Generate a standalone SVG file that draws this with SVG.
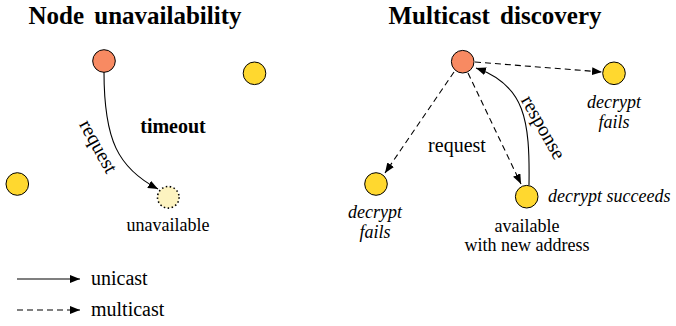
<svg xmlns="http://www.w3.org/2000/svg" width="676" height="326" viewBox="0 0 676 326">
<defs>
<marker id="ah" viewBox="0 0 10 8" refX="10" refY="4" markerWidth="10" markerHeight="8" markerUnits="userSpaceOnUse" orient="auto">
<path d="M0,0 L10,4 L0,8 Z" fill="#000"/>
</marker>
</defs>
<style>
text{font-family:"Liberation Serif","Times New Roman",serif;fill:#000}
.title{font-size:25px;font-weight:bold;text-anchor:middle;word-spacing:4px}
.lbl{font-size:20px}
.note{font-size:18px}
.mid{text-anchor:middle}
.it{font-style:italic}
.n{stroke:#000;stroke-width:1}
.src{fill:#F88A62}
.ok{fill:#FFD82F}
.gone{fill:#FDF3C0;stroke-dasharray:1.5,2.5;stroke-width:1.6}
.c{fill:none;stroke:#000;stroke-width:1.1;marker-end:url(#ah)}
.d{stroke-dasharray:6,4}
</style>
<text class="title" x="135" y="24">Node unavailability</text>
<text class="title" x="495" y="24">Multicast discovery</text>

<g id="connectors">
<path class="c" d="M104,72 C104,140 118,168 158,189"/>
<path class="c d" d="M475,62 L602,72"/>
<path class="c d" d="M454,72 L385,173"/>
<path class="c d" d="M468,73 L521,184"/>
<path class="c" d="M529,185 C530,120 525,85 476,68"/>
<path class="c" d="M17,279 L80,279"/>
<path class="c d" d="M17,310 L80,310"/>
</g>

<g id="left-source"><circle class="n src" cx="104" cy="61" r="11.3"/></g>
<g id="left-peer1"><circle class="n ok" cx="254.5" cy="73.3" r="11.3"/></g>
<g id="left-peer2"><circle class="n ok" cx="17.3" cy="184" r="11.3"/></g>
<g id="left-unavailable"><circle class="n gone" cx="168.3" cy="197.3" r="10.8"/>
<text class="note mid" x="168" y="231">unavailable</text></g>

<g id="left-labels">
<text class="lbl mid" x="173" y="133" font-weight="bold">timeout</text>
<text class="lbl mid" transform="translate(97,147) rotate(61)" x="0" y="5">request</text>
</g>

<g id="right-source"><circle class="n src" cx="462.7" cy="61.7" r="11.3"/></g>
<g id="right-peer-tr"><circle class="n ok" cx="614" cy="73.3" r="11.3"/>
<text class="note mid it" x="614" y="108">decrypt</text>
<text class="note mid it" x="614" y="128">fails</text></g>
<g id="right-peer-bl"><circle class="n ok" cx="376" cy="184" r="11.3"/>
<text class="note mid it" x="375" y="218">decrypt</text>
<text class="note mid it" x="375" y="238">fails</text></g>
<g id="right-peer-ok"><circle class="n ok" cx="526.7" cy="196.7" r="11.3"/>
<text class="note it" x="548" y="202">decrypt succeeds</text>
<text class="note mid" x="527" y="232">available</text>
<text class="note mid" x="527" y="251">with new address</text></g>

<g id="right-labels">
<text class="lbl mid" x="457" y="152">request</text>
<text class="lbl mid" transform="translate(542,128) rotate(60.5)" x="0" y="5">response</text>
</g>

<g id="legend">
<text class="lbl" x="91" y="285">unicast</text>
<text class="lbl" x="91" y="316">multicast</text>
</g>
</svg>
